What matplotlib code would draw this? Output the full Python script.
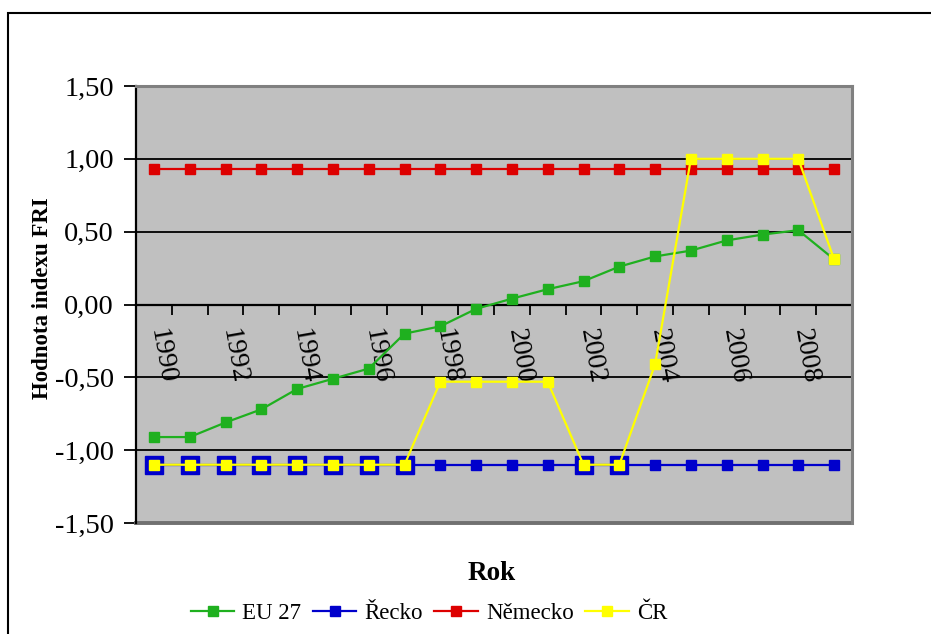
import numpy as np
import matplotlib
matplotlib.use("Agg")
import matplotlib.pyplot as plt
from matplotlib.lines import Line2D
from matplotlib.patches import Rectangle
from matplotlib.transforms import ScaledTranslation

plt.rcParams['font.family'] = ['Liberation Serif', 'DejaVu Serif']

# FRI index values per year
years = [str(y) for y in range(1990, 2010)]
eu27 = [-0.91, -0.91, -0.81, -0.72, -0.58, -0.51, -0.44, -0.20, -0.15, -0.03,
        0.04, 0.105, 0.16, 0.26, 0.33, 0.37, 0.44, 0.48, 0.51, 0.31]
recko = [-1.10] * 20
nemecko = [0.93] * 20
cr = [-1.10, -1.10, -1.10, -1.10, -1.10, -1.10, -1.10, -1.10, -0.53, -0.53,
      -0.53, -0.53, -1.10, -1.10, -0.41, 1.00, 1.00, 1.00, 1.00, 0.31]
series_names = ['EU 27', 'Řecko', 'Německo', 'ČR']
colors = ['#1FB01F', '#0000CC', '#DD0000', '#FFFF00']
y_ticks = [-1.5, -1.0, -0.5, 0.0, 0.5, 1.0, 1.5]

W, H = 931, 634
fig = plt.figure(figsize=(W / 100, H / 100), dpi=100)
ax = fig.add_axes([136 / W, 1 - 523 / H, (852 - 136) / W, (523 - 86) / H])
ax.set_facecolor('#C0C0C0')

x = np.arange(len(years))
ms = 7.8
lw = 1.6

ax.plot(x, eu27, color=colors[0], lw=lw, marker='s', ms=ms, mec=colors[0], zorder=3)
ax.plot(x, recko, color=colors[1], lw=lw, marker='s', ms=ms, mec=colors[1], zorder=4)
# larger markers where the Czech series coincides with Greece
same = [i for i in range(len(x)) if cr[i] == recko[i]]
ax.plot(x[same], np.array(recko)[same], ls='none', marker='s', ms=13,
        color=colors[1], mec=colors[1], zorder=4)
ax.plot(x, nemecko, color=colors[2], lw=lw, marker='s', ms=ms, mec=colors[2], zorder=5)
ax.plot(x, cr, color=colors[3], lw=lw, marker='s', ms=ms, mec=colors[3], zorder=6)

ax.set_xlim(-0.5, len(years) - 0.5)
ax.set_ylim(-1.5, 1.5)

# y axis
ax.set_yticks(y_ticks)
ax.set_yticklabels([f"{v:.2f}".replace('.', ',') for v in y_ticks], fontsize=20.5)
ax.tick_params(axis='y', direction='out', length=9, width=1.3, pad=7, colors='black')
ax.yaxis.grid(True, color='black', lw=1.3)
ax.set_axisbelow(True)
gl = ax.get_ygridlines()
gl[0].set_visible(False)
gl[-1].set_visible(False)

# x axis drawn along the zero line
ax.spines['bottom'].set_position(('data', 0))
ax.spines['bottom'].set_linewidth(1.6)
ax.spines['bottom'].set_zorder(2)
ax.spines['left'].set_linewidth(1.6)
for s in ['top', 'right']:
    ax.spines[s].set_color('#808080')
    ax.spines[s].set_linewidth(2.2)
ax.plot([0, 1], [0, 0], transform=ax.transAxes, color='#707070', lw=2.8,
        clip_on=False, zorder=2)

ax.set_xticks(x[::2])
ax.set_xticklabels(years[::2], fontsize=20, rotation=-80, ha='center', va='top')
ax.set_xticks(np.arange(-0.5, len(years), 1.0), minor=True)
ax.tick_params(axis='x', which='major', length=0, pad=16)
ax.tick_params(axis='x', which='minor', direction='out', length=7, width=1.3)
shift = ScaledTranslation(8 / 100, 0, fig.dpi_scale_trans)
for lab in ax.get_xticklabels():
    lab.set_transform(lab.get_transform() + shift)

fig.text(43 / W, 1 - 298 / H, 'Hodnota indexu FRI', rotation=90, ha='center',
         va='center', fontsize=16.5, fontweight='bold')
fig.text(492 / W, 1 - 573 / H, 'Rok', ha='center', va='center',
         fontsize=19.5, fontweight='bold')

handles = [Line2D([], [], color=c, lw=lw, marker='s', ms=ms, mec=c) for c in colors]
fig.legend(handles, series_names, loc='center', bbox_to_anchor=(429 / W, 1 - 613 / H),
           ncol=4, frameon=False, fontsize=16.5, handlelength=1.9,
           handletextpad=0.35, columnspacing=0.5)

fig.add_artist(Rectangle((8 / W, -0.2), 1.5, 1.2 - 13 / H, transform=fig.transFigure,
                         fill=False, edgecolor='black', lw=1.5))

fig.savefig('out.png', dpi=100)
